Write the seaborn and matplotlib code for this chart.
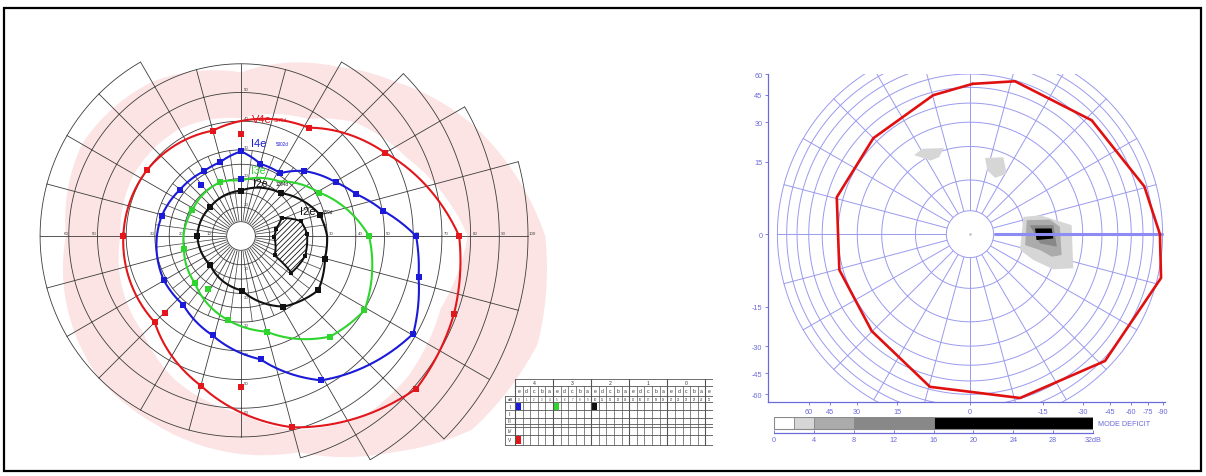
import numpy as np
import matplotlib
matplotlib.use("Agg")
import matplotlib.pyplot as plt
import seaborn as sns
from matplotlib.patches import Rectangle, Polygon

sns.set_theme(style="white")
plt.rcParams["font.family"] = ["Liberation Sans", "DejaVu Sans"]
plt.rcParams["hatch.linewidth"] = 0.6

# ---------------------------------------------------------------------------
# Kinetic (Goldmann) perimetry: meridian angle in degrees, eccentricity in degrees
# ---------------------------------------------------------------------------
V4E_ANG = [0, 30, 58, 105, 145, 180, 225, 255, 285, 319, 340]
V4E_ECC = [76, 58, 44.5, 38, 40, 41, 42.5, 54, 69, 81, 79]
V4E_SPOT_ANG = [90, 225.5, 270]
V4E_SPOT_ECC = [35.5, 37.8, 52.5]

I4E_ANG = [0, 10, 20, 29.5, 46, 58, 75, 90, 106, 120, 143, 166, 210, 230, 254, 279, 299, 330.5, 347]
I4E_ECC = [61, 50.4, 42.7, 38, 31.5, 25.8, 26, 29.5, 26.7, 26, 26.7, 28.5, 31, 31.3, 36, 43.5, 57.5, 69, 63.5]
I4E_SPOT_ANG = [128, 90]
I4E_SPOT_ECC = [22.7, 19.9]

I3E_ANG = [0, 29, 55, 90, 111, 152, 193, 226, 261, 285, 311.5, 329]
I3E_ECC = [44.6, 31.2, 23.2, 19.3, 20.1, 19.2, 20.4, 23, 29.6, 34.5, 46.8, 50.2]
I3E_MARK = [True, True, False, False, True, True, True, True, True, True, True, True]
I3E_SPOT_ANG = [238]
I3E_SPOT_ECC = [21.8]

I2E_ANG = [0, 15, 47, 90, 137, 180, 223, 271, 301, 325, 345]
I2E_ECC = [30, 28.5, 20.4, 15.8, 14.7, 15.2, 14.7, 19, 28.7, 32.9, 30.3]
I2E_MARK = [False, True, True, True, True, True, True, True, True, True, True]

# blind spot (I2e scotoma)
SCOTOMA_ANG = [24, 14, 2, -17, -36, -30, -1, 12]
SCOTOMA_ECC = [15.5, 21.5, 23, 23.4, 21.7, 13.5, 11.5, 12.5]

# normal V4e range (shaded band)
NORM_ANG = [0, 25, 45, 60, 90, 120, 150, 180, 225, 245, 270, 285, 305, 320, 340]
NORM_INNER = [79, 64, 56, 47, 41, 43, 43, 42, 48, 55, 62, 70, 76, 76, 74]
NORM_OUTER = [106, 90, 76, 68, 57, 62, 64, 61, 70, 72, 76, 78, 92, 105, 110]

# chart form: outer limit of each 15-degree sector
SECTOR_START = list(range(0, 360, 15))
SECTOR_LIMIT = [100, 90, 80, 70, 60, 60, 60, 60, 70, 70, 70, 70,
                70, 70, 70, 70, 70, 70, 70, 80, 90, 100, 100, 100]
RING_ECC = [5, 10, 15, 20, 25, 30, 40, 50, 60, 70, 80, 90, 100]

# stimulus table
TABLE_GROUPS = ["4", "3", "2", "1", "0"]
TABLE_LETTERS = ["e", "d", "c", "b", "a"]
TABLE_ROWS = ["I", "II", "III", "IV", "V"]
STIM_ROW = ["V", "I", "I", "I"]
STIM_COL = [0, 0, 5, 10]

# ---------------------------------------------------------------------------
# Static perimetry: threshold outline and deficit patches
# ---------------------------------------------------------------------------
STATIC_ANG = [89, 73.7, 43.3, 15.4, 0, -13, -43.4, -73.1, -104.6, -135.2, -164.6, 164.4, 135, 104.7]
STATIC_ECC = [52.5, 59.3, 64.9, 77.5, 87, 94, 82.6, 69.5, 58.1, 43.9, 42.1, 43.8, 42.8, 47.9]

PATCH1_ANG = [125.1, 118.8, 106.7, 111.8, 118]
PATCH1_ECC = [23.4, 23.7, 20.8, 18.3, 18.5]
PATCH2_ANG = [78.9, 66.7, 58.9, 66.2, 74.8]
PATCH2_ECC = [16.6, 18.6, 14.4, 11.9, 13.1]
PATCH3_ANG = [18, 15.2, 5.1, -18.4, -23, -22.3, -17.7]
PATCH3_ECC = [10.4, 14.9, 25.3, 28.2, 20.8, 13.7, 9.5]
PATCH4_ANG = [13.9, 10.4, 4.7, -12.9, -15.5, -12.9, -11.3]
PATCH4_ECC = [11, 17.6, 20.7, 22.1, 18.8, 14.7, 10.4]
PATCH5_ANG = [8.5, 6.2, -8.3, -7.6]
PATCH5_ECC = [11.5, 18.5, 19.8, 14.3]
PATCH6_ANG = [5, 4, -3, -5.1]
PATCH6_ECC = [12.8, 17.8, 18.3, 13.2]
PATCH_DEFICIT = [3, 3, 3, 6, 12, 24]

DEFICIT_BOUNDS = [0, 2, 4, 8, 16, 32]
DEFICIT_GRAYS = ["#ffffff", "#d6d6d6", "#ababab", "#888888", "#000000"]
DEFICIT_TICKS = [0, 4, 8, 12, 16, 20, 24, 28, 32]
STATIC_TICKS_Y = [60, 45, 30, 15, 0, -15, -30, -45, -60]
STATIC_TICKS_X = [60, 45, 30, 15, 0, -15, -30, -45, -60, -75, -90]

RED, BLUE, GREEN, BLACK = "#e2161b", "#1a1ad8", "#2fd42f", "#111111"
GRID = "#3c3c3c"
PINK = "#fce4e4"
LAV = "#9a9af0"
LAV_DARK = "#6a6ad8"

W, H = 1206, 477
fig = plt.figure(figsize=(W / 100, H / 100), dpi=100)


def fbox(x0, y0, x1, y1):
    return [x0 / W, 1 - y1 / H, (x1 - x0) / W, (y1 - y0) / H]


def ftext(x, y, s, **kw):
    fig.text(x / W, 1 - y / H, s, **kw)


def densify(ang, ecc, closed=False, step=1.0):
    """Follow polar coordinates between vertices (radius varies linearly with angle)."""
    a = np.asarray(ang, float)
    r = np.asarray(ecc, float)
    if closed:
        a = np.append(a, a[0])
        r = np.append(r, r[0])
    ts, rs = [], []
    cur = a[0]
    for i in range(len(a) - 1):
        d = (a[i + 1] - a[i] + 180) % 360 - 180
        n = max(2, int(abs(d) / step) + 2)
        ts.append(np.linspace(cur, cur + d, n)[:-1])
        rs.append(np.linspace(r[i], r[i + 1], n)[:-1])
        cur += d
    ts.append([cur])
    rs.append([r[-1]])
    return np.radians(np.concatenate(ts)), np.concatenate(rs)


# ===================== left: Goldmann chart (polar) =====================
CX, CY, PXDEG = 241, 237, 2.87
RMAX = 112
R_PX = RMAX * PXDEG
ax = fig.add_axes(fbox(CX - R_PX, CY - R_PX, CX + R_PX, CY + R_PX), projection="polar")
ax.set_theta_zero_location("E")
ax.set_theta_direction(1)
ax.set_ylim(0, RMAX)
ax.grid(False)
ax.set_xticks([])
ax.set_yticks([])
ax.spines["polar"].set_visible(False)
ax.set_facecolor("none")

# normal V4e band
to, ro = densify(NORM_ANG, NORM_OUTER, closed=True)
ti, ri = densify(NORM_ANG, NORM_INNER, closed=True)
ax.fill(np.concatenate([to, ti[::-1]]), np.concatenate([ro, ri[::-1]]),
        color=PINK, lw=0, zorder=0)

# chart form grid
for c in RING_ECC:
    for s, lim in zip(SECTOR_START, SECTOR_LIMIT):
        if lim >= c:
            t = np.radians(np.linspace(s, s + 15, 40))
            ax.plot(t, np.full_like(t, c), color=GRID, lw=0.6, zorder=1)
for i, s in enumerate(SECTOR_START):
    lim = max(SECTOR_LIMIT[i], SECTOR_LIMIT[i - 1])
    ax.plot([np.radians(s)] * 2, [5, lim], color=GRID, lw=0.6, zorder=1)
    ax.plot([np.radians(s + 7.5)] * 2, [5, 30], color=GRID, lw=0.5, zorder=1)
tt = np.linspace(0, 2 * np.pi, 200)
ax.fill(tt, np.full_like(tt, 5), color="white", zorder=1.5)
ax.plot(tt, np.full_like(tt, 5), color=GRID, lw=0.6, zorder=1.6)

# scale labels along the axes
for e in [10, 20, 30, 40, 50, 60]:
    ax.annotate(str(e), (np.pi, e), xytext=(-2, 0.5), textcoords="offset points",
                ha="center", va="bottom", fontsize=3.2, color="#444444", zorder=2)
for e in [30, 40, 50, 60, 70, 80, 90, 100]:
    ax.annotate(str(e), (0, e), xytext=(3, 0.5), textcoords="offset points",
                ha="center", va="bottom", fontsize=3.2, color="#444444", zorder=2)
for e in [10, 20, 30, 40, 50]:
    ax.annotate(str(e), (np.pi / 2, e), xytext=(2, 1), textcoords="offset points",
                ha="left", va="bottom", fontsize=3.2, color="#444444", zorder=2)
for e in [10, 20, 30, 40, 50, 60]:
    ax.annotate(str(e), (-np.pi / 2, e), xytext=(2, -1), textcoords="offset points",
                ha="left", va="top", fontsize=3.2, color="#444444", zorder=2)

# blind spot
ts_, rs_ = densify(SCOTOMA_ANG, SCOTOMA_ECC, closed=True)
ax.fill(ts_, rs_, facecolor="white", edgecolor=BLACK, hatch="//////", lw=1.4, zorder=2.5)
sns.scatterplot(x=np.radians(SCOTOMA_ANG), y=SCOTOMA_ECC, marker="s", s=12,
                color=BLACK, linewidth=0, ax=ax, zorder=4, legend=False)

isopters = [
    (V4E_ANG, V4E_ECC, [True] * len(V4E_ANG), V4E_SPOT_ANG, V4E_SPOT_ECC, RED),
    (I4E_ANG, I4E_ECC, [True] * len(I4E_ANG), I4E_SPOT_ANG, I4E_SPOT_ECC, BLUE),
    (I3E_ANG, I3E_ECC, I3E_MARK, I3E_SPOT_ANG, I3E_SPOT_ECC, GREEN),
    (I2E_ANG, I2E_ECC, I2E_MARK, [], [], BLACK),
]
for ang, ecc, mark, sa, se, col in isopters:
    t, r = densify(ang, ecc, closed=True)
    sns.lineplot(x=t, y=r, sort=False, estimator=None, color=col, lw=1.5, ax=ax, zorder=3)
    ma = np.radians(np.asarray(ang)[np.asarray(mark)])
    me = np.asarray(ecc)[np.asarray(mark)]
    sns.scatterplot(x=ma, y=me, marker="s", s=13, color=col, linewidth=0,
                    ax=ax, zorder=4, legend=False)
    if len(sa):
        sns.scatterplot(x=np.radians(sa), y=se, marker="s", s=16, color=col,
                        linewidth=0, ax=ax, zorder=4, legend=False)
ax.set_xlabel("")
ax.set_ylabel("")
ax.set_ylim(0, RMAX)

# isopter captions
ftext(252, 120, "V4e", color=RED, fontsize=8, ha="left", va="center")
ftext(274, 121, "3579d", color=RED, fontsize=3.3, ha="left", va="center")
ftext(251, 144, "I4e", color=BLUE, fontsize=8, ha="left", va="center")
ftext(276, 145, "5002d", color=BLUE, fontsize=3.3, ha="left", va="center")
ftext(251, 171, "I3e", color=GREEN, fontsize=7.5, ha="left", va="center")
ftext(253, 184, "I2e", color=BLACK, fontsize=7.5, ha="left", va="center")
ftext(276, 184, "1294d", color=BLACK, fontsize=3.3, ha="left", va="center")
ftext(300, 212, "I2e", color=BLACK, fontsize=8, ha="left", va="center")
ftext(323, 213, "159d", color=BLACK, fontsize=3.3, ha="left", va="center")

# ===================== stimulus table =====================
tab = fig.add_axes(fbox(505, 380, 713, 448))
tab.set_xlim(0, 208)
tab.set_ylim(68, 0)
tab.axis("off")
LBL_W = 10
COL_W = (208 - LBL_W) / 26
ROW_Y = [23.3, 31.2, 38.5, 45.3, 47.5, 56, 66]
ROW_SPAN = {"I": (23.3, 31.2), "II": (31.2, 38.5), "III": (38.5, 45.3),
            "IV": (47.5, 56), "V": (56, 66)}
TG = "#555555"
tab.add_patch(Rectangle((0, 16.7), 208, 66 - 16.7, facecolor="white", edgecolor="none"))
tab.add_patch(Rectangle((LBL_W, 0), 208 - LBL_W, 16.7, facecolor="white", edgecolor="none"))
for y in [0, 6.7]:
    tab.plot([LBL_W, 208], [y, y], color=TG, lw=0.6)
for y in [16.7] + ROW_Y:
    tab.plot([0, 208], [y, y], color=TG, lw=0.6)
tab.plot([0, 0], [16.7, 66], color=TG, lw=0.6)
for k in range(27):
    x = LBL_W + k * COL_W
    top = 0 if (k % 5 == 0 or k == 26) else 6.7
    tab.plot([x, x], [top, 66], color=TG, lw=0.8 if k % 5 == 0 else 0.5)
for g, name in enumerate(TABLE_GROUPS):
    tab.text(LBL_W + (g * 5 + 2.5) * COL_W, 3.6, name, ha="center", va="center",
             fontsize=3.6, color="#333333")
for k in range(26):
    xc = LBL_W + (k + 0.5) * COL_W
    tab.text(xc, 11.8, TABLE_LETTERS[k % 5], ha="center", va="center", fontsize=3.6, color="#333333")
    tab.text(xc, 20, str(k), ha="center", va="center", fontsize=2.0, color="#333333")
tab.text(LBL_W / 2, 20, "dB", ha="center", va="center", fontsize=3.2, color="#333333")
for name in TABLE_ROWS:
    y0, y1 = ROW_SPAN[name]
    tab.text(LBL_W / 2, (y0 + y1) / 2, name, ha="center", va="center", fontsize=3.4, color="#333333")
for rname, col, c in zip(STIM_ROW, STIM_COL, [RED, BLUE, GREEN, BLACK]):
    y0, y1 = ROW_SPAN[rname]
    x0 = LBL_W + col * COL_W
    tab.add_patch(Rectangle((x0 + 0.6, y0 + 1.0), COL_W * 0.75, (y1 - y0) - 1.6,
                            facecolor=c, edgecolor="none"))

# ===================== right: static perimetry =====================
SCX, SCY, SPX = 970, 234, 90.0


def proj(ang, ecc):
    p = np.log1p(np.asarray(ecc, float) / 12.0)
    a = np.radians(np.asarray(ang, float))
    return p * np.cos(a), p * np.sin(a)


def pr(e):
    return float(np.log1p(e / 12.0))


X0, X1, Y0, Y1 = 768, 1165, 75, 403
sx = fig.add_axes(fbox(X0, Y0, X1, Y1))
sx.set_xlim((X0 - SCX) / SPX, (X1 - SCX) / SPX)
sx.set_ylim((SCY - Y1) / SPX, (SCY - Y0) / SPX)
sx.set_facecolor("white")

for e in range(10, 100, 10):
    t = np.linspace(0, 360, 361)
    gx, gy = proj(t, np.full_like(t, e))
    sx.plot(gx, gy, color=LAV, lw=0.7, zorder=1)
for a in range(0, 360, 15):
    gx, gy = proj([a, a], [3.6, 90])
    sx.plot(gx, gy, color=LAV, lw=0.7, zorder=1)
cx_, cy_ = proj(np.linspace(0, 360, 200), np.full(200, 3.6))
sx.fill(cx_, cy_, facecolor="white", edgecolor=LAV, lw=0.7, zorder=1.2)
sx.plot([0], [0], marker="o", ms=0.8, color="#bbbbbb", zorder=1.3)

patches = [(PATCH1_ANG, PATCH1_ECC), (PATCH2_ANG, PATCH2_ECC), (PATCH3_ANG, PATCH3_ECC),
           (PATCH4_ANG, PATCH4_ECC), (PATCH5_ANG, PATCH5_ECC), (PATCH6_ANG, PATCH6_ECC)]
for (pa, pe), dv in zip(patches, PATCH_DEFICIT):
    k = np.searchsorted(DEFICIT_BOUNDS, dv) - 1
    px_, py_ = proj(pa, pe)
    sx.add_patch(Polygon(np.column_stack([px_, py_]), closed=True,
                         facecolor=DEFICIT_GRAYS[k], edgecolor="none", zorder=2))

hx, hy = proj([0, 0], [3.6, 90])
sx.plot(hx, hy, color="#8c8cf4", lw=2.2, zorder=2.5, solid_capstyle="butt")

rx, ry = proj(STATIC_ANG + STATIC_ANG[:1], STATIC_ECC + STATIC_ECC[:1])
sns.lineplot(x=rx, y=ry, sort=False, estimator=None, color="#e01010", lw=1.9, ax=sx, zorder=3)
sx.set_xlabel("")
sx.set_ylabel("")

for side in ["top", "right"]:
    sx.spines[side].set_visible(False)
for side in ["left", "bottom"]:
    sx.spines[side].set_color(LAV_DARK)
    sx.spines[side].set_linewidth(0.9)
sx.set_yticks([np.sign(v) * pr(abs(v)) for v in STATIC_TICKS_Y])
sx.set_yticklabels([str(v) for v in STATIC_TICKS_Y])
sx.set_xticks([-np.sign(v) * pr(abs(v)) for v in STATIC_TICKS_X])
sx.set_xticklabels([str(v) for v in STATIC_TICKS_X])
sx.tick_params(axis="both", which="both", length=2.5, width=0.6, color=LAV_DARK,
               labelcolor=LAV_DARK, labelsize=5.2, pad=1.5, direction="out",
               bottom=True, left=True)

# deficit scale bar
cb = fig.add_axes(fbox(774, 418, 1093, 434))
cb.set_xlim(0, 32)
cb.set_ylim(-0.33, 1)
lefts = DEFICIT_BOUNDS[:-1]
widths = np.diff(DEFICIT_BOUNDS)
cb.barh(y=[0.5] * len(lefts), width=widths, left=lefts, height=1.0,
        color=DEFICIT_GRAYS, edgecolor="#8a8a8a", linewidth=0.6, align="center")
cb.add_patch(Rectangle((0, 0), 32, 1, fill=False, edgecolor="#8a8a8a", lw=0.8))
for side in ["top", "right", "left"]:
    cb.spines[side].set_visible(False)
cb.spines["bottom"].set_color(LAV_DARK)
cb.spines["bottom"].set_linewidth(0.9)
cb.set_yticks([])
cb.set_xticks(DEFICIT_TICKS)
cb.set_xticklabels([str(v) for v in DEFICIT_TICKS[:-1]] + ["32dB"])
cb.tick_params(axis="x", length=2.5, width=0.6, color=LAV_DARK, labelcolor=LAV_DARK,
               labelsize=5.2, pad=2, direction="in", bottom=True)
cb.set_facecolor("none")
ftext(1098, 425, "MODE DEFICIT", color=LAV_DARK, fontsize=5.2, ha="left", va="center")

# outer frame
fig.patches.append(Rectangle((4 / W, 1 - 472 / H), 1197 / W, 463 / H, transform=fig.transFigure,
                             fill=False, edgecolor="black", lw=1.6, zorder=10))

fig.savefig("out.png", dpi=100, facecolor="white")
